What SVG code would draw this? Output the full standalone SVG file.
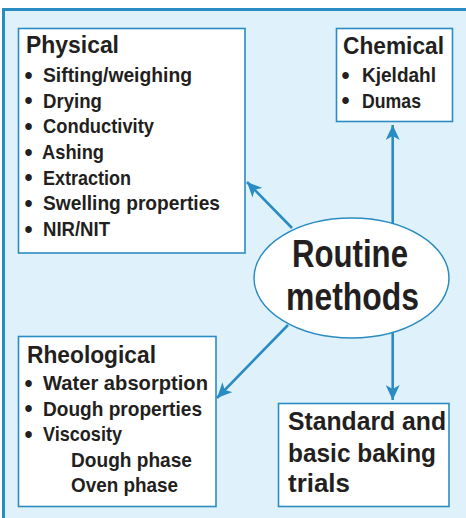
<svg xmlns="http://www.w3.org/2000/svg" width="466" height="518" viewBox="0 0 466 518">
<style>
.panel{fill:#dff1fa;stroke:#2a8cc2;stroke-width:3}
.box{fill:#ffffff;stroke:#2a8cc2;stroke-width:1.6}
.t{font-family:"Liberation Sans",Arial,sans-serif;font-weight:bold;fill:#231f20}
.h{font-size:24px}
.i{font-size:20.5px}
.b{font-size:23px}
.s{font-size:25px}
.r{font-size:38px}
.conn{stroke:#2a8cc2;stroke-width:2.6;fill:none;marker-end:url(#ah)}
</style>
<defs>
<marker id="ah" markerUnits="userSpaceOnUse" markerWidth="16" markerHeight="14" refX="15" refY="7" orient="auto">
<path d="M0,0 L15,7 L0,14 L4,7 Z" fill="#2a8cc2"/>
</marker>
</defs>
<rect width="466" height="518" fill="#ffffff"/>
<rect class="panel" x="3.5" y="9.5" width="470" height="520"/>
<g id="connectors">
<line class="conn" x1="292" y1="228" x2="247" y2="182"/>
<line class="conn" x1="392.7" y1="224" x2="392.7" y2="125"/>
<line class="conn" x1="288" y1="325" x2="217" y2="398"/>
<line class="conn" x1="392.7" y1="333" x2="392.7" y2="400"/>
</g>
<g id="physical">
<rect class="box" x="18.5" y="28.5" width="226.5" height="224.5"/>
<text class="t h" x="26" y="53" textLength="93" lengthAdjust="spacingAndGlyphs">Physical</text>
<text class="t b" x="24.5" y="83.5">•</text>
<text class="t i" x="43" y="82" textLength="149" lengthAdjust="spacingAndGlyphs">Sifting/weighing</text>
<text class="t b" x="24.5" y="109">•</text>
<text class="t i" x="43" y="107.5" textLength="59" lengthAdjust="spacingAndGlyphs">Drying</text>
<text class="t b" x="24.5" y="134.5">•</text>
<text class="t i" x="43" y="133" textLength="111" lengthAdjust="spacingAndGlyphs">Conductivity</text>
<text class="t b" x="24.5" y="160.5">•</text>
<text class="t i" x="42" y="159" textLength="62" lengthAdjust="spacingAndGlyphs">Ashing</text>
<text class="t b" x="24.5" y="186">•</text>
<text class="t i" x="43" y="184.5" textLength="88" lengthAdjust="spacingAndGlyphs">Extraction</text>
<text class="t b" x="24.5" y="211.5">•</text>
<text class="t i" x="43" y="210" textLength="177" lengthAdjust="spacingAndGlyphs">Swelling properties</text>
<text class="t b" x="24.5" y="237.5">•</text>
<text class="t i" x="43" y="236" textLength="67" lengthAdjust="spacingAndGlyphs">NIR/NIT</text>
</g>
<g id="chemical">
<rect class="box" x="336.5" y="28.5" width="116" height="93"/>
<text class="t h" x="343" y="54" textLength="101" lengthAdjust="spacingAndGlyphs">Chemical</text>
<text class="t b" x="341.5" y="83.5">•</text>
<text class="t i" x="362" y="82" textLength="74" lengthAdjust="spacingAndGlyphs">Kjeldahl</text>
<text class="t b" x="341.5" y="109">•</text>
<text class="t i" x="362" y="107.5" textLength="59" lengthAdjust="spacingAndGlyphs">Dumas</text>
</g>
<g id="routine">
<ellipse cx="351.5" cy="278" rx="97.5" ry="60" fill="#ffffff" stroke="#2a8cc2" stroke-width="1.5"/>
<text class="t r" x="292" y="267" textLength="116" lengthAdjust="spacingAndGlyphs">Routine</text>
<text class="t r" x="286" y="310" textLength="133" lengthAdjust="spacingAndGlyphs">methods</text>
</g>
<g id="rheological">
<rect class="box" x="18.5" y="336.5" width="197.5" height="170"/>
<text class="t h" x="27" y="363" textLength="129" lengthAdjust="spacingAndGlyphs">Rheological</text>
<text class="t b" x="24.5" y="391.5">•</text>
<text class="t i" x="43" y="390" textLength="165" lengthAdjust="spacingAndGlyphs">Water absorption</text>
<text class="t b" x="24.5" y="417">•</text>
<text class="t i" x="43" y="415.5" textLength="159" lengthAdjust="spacingAndGlyphs">Dough properties</text>
<text class="t b" x="24.5" y="442.5">•</text>
<text class="t i" x="43" y="441" textLength="79" lengthAdjust="spacingAndGlyphs">Viscosity</text>
<text class="t i" x="71" y="466.5" textLength="121" lengthAdjust="spacingAndGlyphs">Dough phase</text>
<text class="t i" x="71" y="492" textLength="107" lengthAdjust="spacingAndGlyphs">Oven phase</text>
</g>
<g id="baking">
<rect class="box" x="278.5" y="403.5" width="170.5" height="103"/>
<text class="t s" x="288" y="430" textLength="158" lengthAdjust="spacingAndGlyphs">Standard and</text>
<text class="t s" x="288" y="461.5" textLength="148" lengthAdjust="spacingAndGlyphs">basic baking</text>
<text class="t s" x="288" y="492" textLength="62" lengthAdjust="spacingAndGlyphs">trials</text>
</g>
</svg>
